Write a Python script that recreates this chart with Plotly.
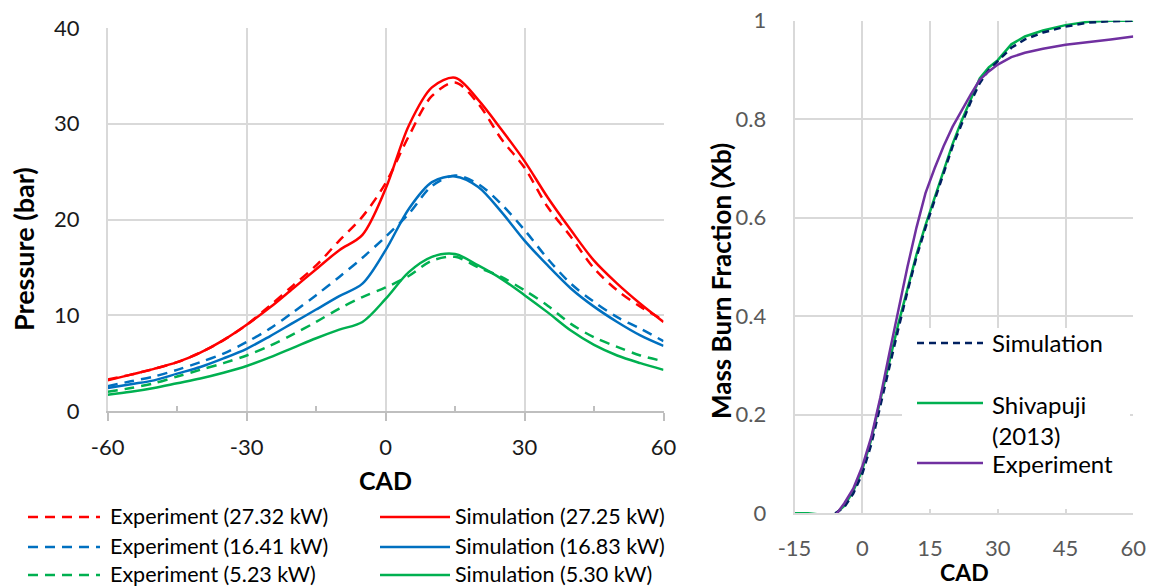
import plotly.graph_objects as go

# ---------------- data: left chart (pressure) ----------------
cad = [-60, -55, -50, -45, -40, -35, -30, -25, -20, -15, -10, -5, 0,
       5, 10, 15, 20, 25, 30, 35, 40, 45, 50, 55, 60]

exp_27 = [3.3, 3.8, 4.4, 5.1, 6.1, 7.4, 9.0, 11.0, 13.1, 15.2, 17.8, 20.3, 23.8,
          28.7, 32.9, 34.3, 32.1, 28.4, 25.4, 21.3, 18.2, 14.9, 12.6, 10.9, 9.5]
sim_27 = [3.2, 3.8, 4.4, 5.1, 6.1, 7.4, 9.0, 10.8, 12.8, 14.8, 16.8, 18.4, 23.2,
          29.8, 33.8, 34.8, 32.5, 29.4, 26.1, 22.3, 18.9, 15.7, 13.3, 11.2, 9.3]
exp_16 = [2.6, 3.1, 3.6, 4.3, 5.1, 6.0, 7.2, 8.6, 10.3, 12.1, 14.0, 16.0, 18.2,
          20.6, 23.5, 24.6, 23.7, 21.6, 18.9, 15.9, 13.3, 11.4, 9.8, 8.6, 7.3]
sim_16 = [2.4, 2.8, 3.2, 3.9, 4.6, 5.5, 6.5, 7.8, 9.2, 10.6, 12.0, 13.3, 16.8,
          21.1, 23.9, 24.5, 23.4, 20.8, 17.8, 15.2, 12.8, 10.9, 9.3, 7.9, 6.8]
exp_5 = [2.0, 2.4, 2.9, 3.6, 4.3, 5.0, 5.8, 6.8, 8.0, 9.3, 10.7, 11.9, 12.9,
         14.1, 15.7, 16.1, 15.0, 14.0, 12.6, 11.0, 9.1, 7.7, 6.7, 5.8, 5.2]
sim_5 = [1.7, 2.0, 2.4, 2.9, 3.4, 4.0, 4.7, 5.6, 6.6, 7.6, 8.5, 9.3, 11.7,
         14.5, 16.1, 16.4, 15.2, 13.8, 12.1, 10.3, 8.4, 6.9, 5.8, 5.0, 4.3]

left_names = ["Experiment (27.32 kW)", "Simulation (27.25 kW)",
              "Experiment (16.41 kW)", "Simulation (16.83 kW)",
              "Experiment (5.23 kW)", "Simulation (5.30 kW)"]

# ---------------- data: right chart (mass burn fraction) ----------------
cad_shiv = [-15, -12, -9, -6, -4, -2, 0, 2, 4, 6, 8, 10, 12, 14, 16, 18, 20, 22, 24,
            26, 28, 30, 33, 36, 40, 45, 50, 55, 60]
xb_shiv = [0.0, 0.0, -0.003, -0.002, 0.015, 0.045, 0.088, 0.15, 0.23, 0.31, 0.385,
           0.455, 0.525, 0.585, 0.64, 0.695, 0.75, 0.797, 0.84, 0.883, 0.905, 0.92,
           0.952, 0.968, 0.98, 0.991, 0.998, 1.0, 1.0]

cad_mb = [-6, -4, -2, 0, 2, 4, 6, 8, 10, 12, 14, 16, 18, 20, 22, 24, 26, 28, 30, 33,
          36, 40, 45, 50, 55, 60]
xb_sim = [0.0, 0.012, 0.04, 0.08, 0.14, 0.22, 0.30, 0.375, 0.45, 0.52, 0.58, 0.635,
          0.69, 0.745, 0.79, 0.835, 0.873, 0.90, 0.918, 0.945, 0.962, 0.976, 0.988,
          0.996, 0.999, 1.0]
xb_exp = [-0.005, 0.02, 0.05, 0.095, 0.155, 0.235, 0.325, 0.415, 0.50, 0.58, 0.65,
          0.70, 0.745, 0.785, 0.818, 0.85, 0.88, 0.897, 0.911, 0.926, 0.935, 0.943,
          0.951, 0.956, 0.962, 0.968]

right_names = ["Simulation", "Shivapuji<br>(2013)", "Experiment"]

left_xticks = [-60, -30, 0, 30, 60]
left_xtext = ["-60", "-30", "0", "30", "60"]
left_yticks = [0, 10, 20, 30, 40]
right_xticks = [-15, 0, 15, 30, 45, 60]
right_xtext = ["-15", "0", "15", "30", "45", "60"]
right_yticks = [0, 0.2, 0.4, 0.6, 0.8, 1]
right_ytext = ["0", "0.2", "0.4", "0.6", "0.8", "1"]

# ---------------- styles ----------------
RED, BLUE, GREEN = "#FF0000", "#0070C0", "#00B050"
NAVY, PURPLE = "#002060", "#7030A0"
GRID = "#D9D9D9"
AXIS = "#BFBFBF"
FONT = "Lato"
DASH = "10px,7px"
W = 1159
H = 588

def px(x):
    return x / W

def py(y):
    return (H - y) / H

fig = go.Figure()

left_series = [exp_27, sim_27, exp_16, sim_16, exp_5, sim_5]
left_colors = [RED, RED, BLUE, BLUE, GREEN, GREEN]
for i, (ys, c, nm) in enumerate(zip(left_series, left_colors, left_names)):
    fig.add_trace(go.Scatter(
        x=cad, y=ys, mode="lines", name=nm, xaxis="x", yaxis="y",
        line=dict(color=c, width=2.5, dash=DASH if i % 2 == 0 else "solid",
                  shape="spline", smoothing=0.9),
        showlegend=False))

fig.add_trace(go.Scatter(x=cad_shiv, y=xb_shiv, mode="lines", name=right_names[1],
                         xaxis="x2", yaxis="y2", showlegend=False,
                         line=dict(color=GREEN, width=2.5)))
fig.add_trace(go.Scatter(x=cad_mb, y=xb_sim, mode="lines", name=right_names[0],
                         xaxis="x2", yaxis="y2", showlegend=False,
                         line=dict(color=NAVY, width=2.5, dash="7px,5px")))
fig.add_trace(go.Scatter(x=cad_mb, y=xb_exp, mode="lines", name=right_names[2],
                         xaxis="x2", yaxis="y2", showlegend=False,
                         line=dict(color=PURPLE, width=2.5)))

tickfont_l = dict(family=FONT, size=22, color="#1a1a1a")
tickfont_r = dict(family=FONT, size=22, color="#595959")

fig.update_layout(
    width=W, height=H,
    margin=dict(l=0, r=0, t=0, b=0),
    paper_bgcolor="white", plot_bgcolor="white",
    showlegend=False,
    xaxis=dict(domain=[px(107.7), px(663.5)], range=[-60, 60],
               tickvals=left_xticks, ticktext=left_xtext, automargin=False,
               showgrid=True, gridcolor=GRID, gridwidth=1.6, zeroline=False,
               showline=True, linecolor=AXIS, linewidth=1.6,
               ticks="outside", ticklen=8, tickcolor=AXIS, tickwidth=1.6,
               minor=dict(ticks="inside", ticklen=5, tickvals=[-45, -15, 15, 45],
                          tickcolor=AXIS, tickwidth=1.6, showgrid=False),
               tickfont=tickfont_l, ticklabelstandoff=8, anchor="y"),
    yaxis=dict(domain=[py(411), py(28)], range=[0, 40], tickvals=left_yticks,
               automargin=False,
               showgrid=True, gridcolor=GRID, gridwidth=1.6, zeroline=False,
               showline=True, linecolor=GRID, linewidth=1.6,
               tickfont=tickfont_l, ticklabelstandoff=22, anchor="x"),
    xaxis2=dict(domain=[px(794.5), px(1133.3)], range=[-15, 60],
                tickvals=right_xticks, ticktext=right_xtext, automargin=False,
                showgrid=True, gridcolor=GRID, gridwidth=1.6, zeroline=False,
                showline=True, linecolor=GRID, linewidth=1.6,
                tickfont=tickfont_r, ticklabelstandoff=14, anchor="y2"),
    yaxis2=dict(domain=[py(513.3), py(20.7)], range=[0, 1],
                tickvals=right_yticks, ticktext=right_ytext, automargin=False,
                showgrid=True, gridcolor=GRID, gridwidth=1.6, zeroline=False,
                showline=True, linecolor=GRID, linewidth=1.6,
                tickfont=tickfont_r, ticklabelstandoff=22, anchor="x2"),
)

shapes = []
annotations = []

# axis titles
annotations.append(dict(x=px(385), y=py(480), xref="paper", yref="paper", text="<b>CAD</b>",
                        showarrow=False, font=dict(family=FONT, size=25, color="#000"),
                        xanchor="center", yanchor="middle"))
annotations.append(dict(x=px(24), y=py(249), xref="paper", yref="paper",
                        text="<b>Pressure (bar)</b>", textangle=-90,
                        showarrow=False, font=dict(family=FONT, size=27, color="#000"),
                        xanchor="center", yanchor="middle"))
annotations.append(dict(x=px(964), y=py(572), xref="paper", yref="paper", text="<b>CAD</b>",
                        showarrow=False, font=dict(family=FONT, size=23, color="#000"),
                        xanchor="center", yanchor="middle"))
annotations.append(dict(x=px(721), y=py(281), xref="paper", yref="paper",
                        text="<b>Mass Burn Fraction (Xb)</b>", textangle=-90,
                        showarrow=False, font=dict(family=FONT, size=26, color="#000"),
                        xanchor="center", yanchor="middle"))

# left legend (below chart, two columns)
leg_font = dict(family=FONT, size=21.5, color="#000000")
rows = [516, 546, 574]
for r, ycen in enumerate(rows):
    shapes.append(dict(type="line", xref="paper", yref="paper",
                       x0=px(28), x1=px(100), y0=py(ycen + 1), y1=py(ycen + 1),
                       line=dict(color=left_colors[2 * r], width=2.5, dash=DASH)))
    annotations.append(dict(x=px(108), y=py(ycen), xref="paper", yref="paper",
                            text=left_names[2 * r], showarrow=False, font=leg_font,
                            xanchor="left", yanchor="middle"))
    shapes.append(dict(type="line", xref="paper", yref="paper",
                       x0=px(380), x1=px(450), y0=py(ycen + 1), y1=py(ycen + 1),
                       line=dict(color=left_colors[2 * r + 1], width=2.5)))
    annotations.append(dict(x=px(453), y=py(ycen), xref="paper", yref="paper",
                            text=left_names[2 * r + 1], showarrow=False, font=leg_font,
                            xanchor="left", yanchor="middle"))

# right legend (inside plot, white box)
shapes.append(dict(type="rect", xref="paper", yref="paper", layer="above",
                   x0=px(902), x1=px(1130), y0=py(509), y1=py(328),
                   fillcolor="white", line=dict(width=0)))
rleg = [(343, NAVY, "7px,5px", right_names[0], 343),
        (403, GREEN, "solid", right_names[1], 420),
        (463, PURPLE, "solid", right_names[2], 463)]
for yl, col, dsh, txt, yt in rleg:
    shapes.append(dict(type="line", xref="paper", yref="paper", layer="above",
                       x0=px(917), x1=px(983), y0=py(yl), y1=py(yl),
                       line=dict(color=col, width=2.5, dash=dsh)))
    annotations.append(dict(x=px(990), y=py(yt), xref="paper", yref="paper",
                            text=txt, showarrow=False, align="left",
                            font=dict(family=FONT, size=24, color="#000000"),
                            xanchor="left", yanchor="middle"))

fig.update_layout(shapes=shapes, annotations=annotations)
fig.write_html("out.html")
